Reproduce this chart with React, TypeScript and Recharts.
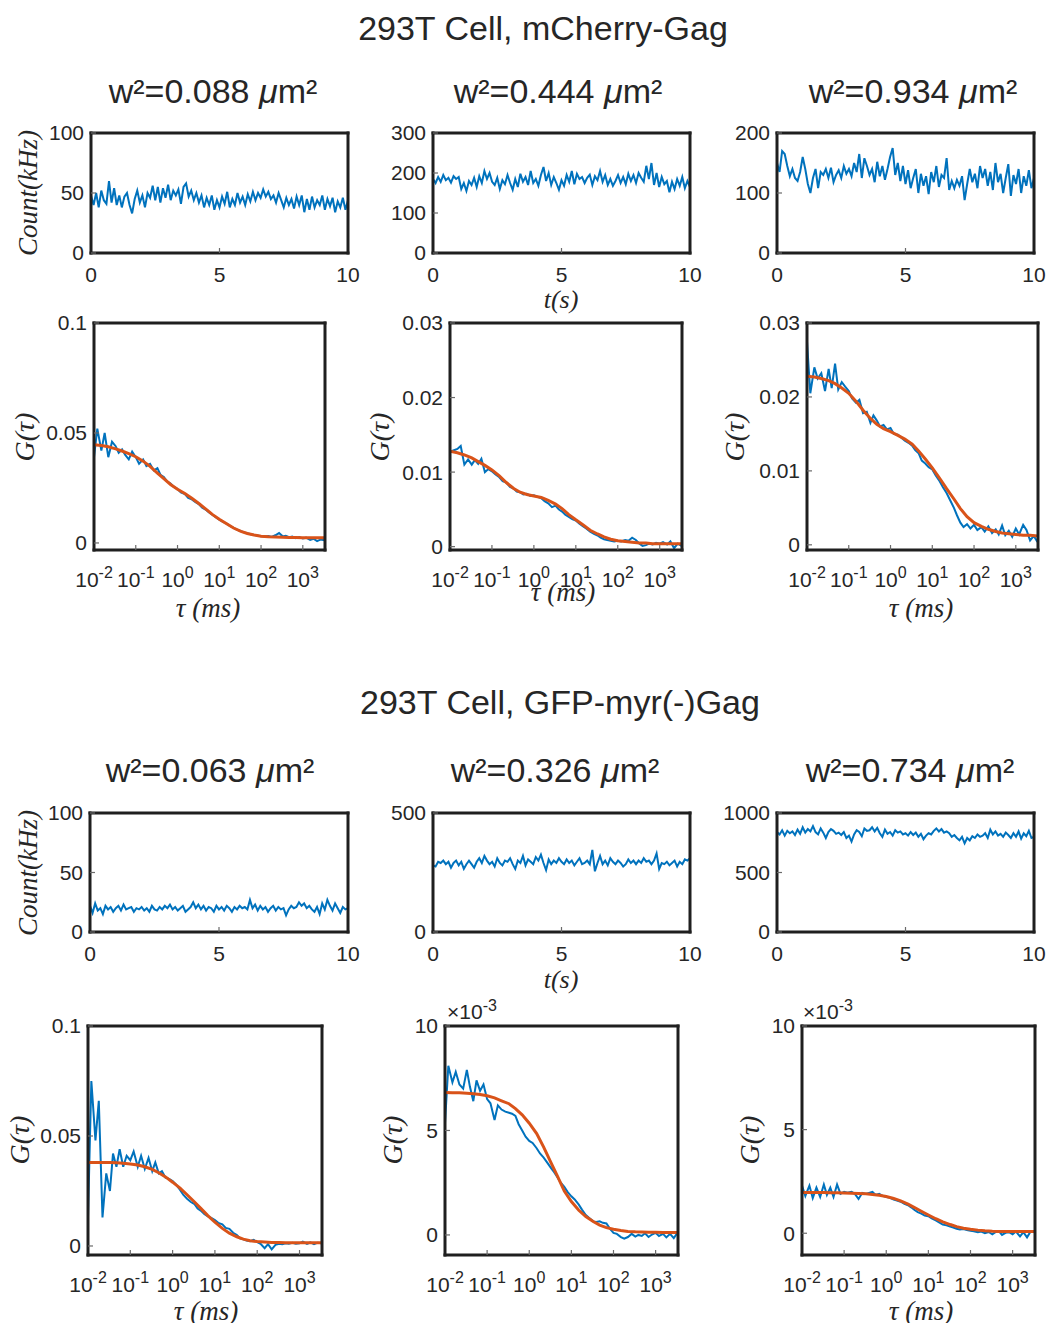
import React from 'react';
import { LineChart, Line, XAxis, YAxis } from 'recharts';

const BLUE = '#0072BD';
const ORANGE = '#D95319';
const INK = '#262626';
const FRAME = '#1f1f1f';
const SANS = '"Liberation Sans", Arial, Helvetica, sans-serif';
const SERIF = '"Liberation Serif", "Times New Roman", serif';

// time base of the photon count traces (s)
const T_SEC = [
  0, 0.1, 0.2, 0.3, 0.4, 0.5, 0.6, 0.7, 0.8, 0.9,
  1, 1.1, 1.2, 1.3, 1.4, 1.5, 1.6, 1.7, 1.8, 1.9,
  2, 2.1, 2.2, 2.3, 2.4, 2.5, 2.6, 2.7, 2.8, 2.9,
  3, 3.1, 3.2, 3.3, 3.4, 3.5, 3.6, 3.7, 3.8, 3.9,
  4, 4.1, 4.2, 4.3, 4.4, 4.5, 4.6, 4.7, 4.8, 4.9,
  5, 5.1, 5.2, 5.3, 5.4, 5.5, 5.6, 5.7, 5.8, 5.9,
  6, 6.1, 6.2, 6.3, 6.4, 6.5, 6.6, 6.7, 6.8, 6.9,
  7, 7.1, 7.2, 7.3, 7.4, 7.5, 7.6, 7.7, 7.8, 7.9,
  8, 8.1, 8.2, 8.3, 8.4, 8.5, 8.6, 8.7, 8.8, 8.9,
  9, 9.1, 9.2, 9.3, 9.4, 9.5, 9.6, 9.7, 9.8, 9.9,
  10,
];

// lag times of the correlation data (ms)
const TAU = [
  0.01, 0.012, 0.015, 0.018, 0.022, 0.027, 0.033, 0.039, 0.047, 0.056, 0.068, 0.082,
  0.1, 0.12, 0.15, 0.18, 0.22, 0.27, 0.33, 0.39, 0.47, 0.56, 0.68, 0.82,
  1, 1.2, 1.5, 1.8, 2.2, 2.7, 3.3, 3.9, 4.7, 5.6, 6.8, 8.2,
  10, 12, 15, 18, 22, 27, 33, 39, 47, 56, 68, 82,
  100, 120, 150, 180, 220, 270, 330, 390, 470, 560, 680, 820,
  1000, 1200, 1500, 1800, 2200, 2700, 3300,
];

// lag times of the fitted curves (ms)
const TAU_FIT = [
  0.01, 0.015, 0.022, 0.033, 0.047, 0.068,
  0.1, 0.15, 0.22, 0.33, 0.47, 0.68,
  1, 1.5, 2.2, 3.3, 4.7, 6.8,
  10, 15, 22, 33, 47, 68,
  100, 150, 220, 330, 470, 680,
  1000, 1500, 2200, 3300,
];

const COUNT_X_TICKS = [0, 5, 10];
const TAU_TICKS = [0.01, 0.1, 1, 10, 100, 1000];

// ---- mCherry-Gag: count traces (kHz)
const MCH_COUNT_1 = [
  48, 40, 50, 38, 52, 44, 41, 60, 42, 54,
  40, 48, 38, 47, 50, 40, 33, 45, 52, 42,
  48, 38, 50, 46, 56, 44, 55, 42, 54, 46,
  57, 44, 52, 48, 53, 41, 55, 58, 47, 52,
  44, 50, 42, 48, 38, 46, 40, 48, 36, 44,
  38, 47, 41, 51, 38, 45, 40, 50, 42, 47,
  40, 49, 43, 51, 44, 50, 46, 53, 47, 51,
  45, 48, 42, 50, 44, 38, 46, 40, 45, 37,
  47, 40, 48, 34, 45, 36, 47, 38, 44, 40,
  48, 36, 45, 39, 46, 34, 43, 38, 46, 36,
  44,
];
const MCH_COUNT_2 = [
  185, 175, 190, 178, 195, 182, 188, 176, 192, 185,
  190, 160, 175, 155, 180, 170, 188, 165, 192, 175,
  205, 185, 200, 178, 170, 188, 160, 182, 172, 195,
  175, 158, 185, 165, 198, 178, 190, 170, 205, 175,
  185, 168, 195, 215, 180, 200, 170, 190, 175, 158,
  182, 168, 195, 178, 205, 172, 198, 185, 190, 175,
  188, 196, 170, 192, 182, 205, 178, 195, 170, 185,
  168, 180, 195, 175, 190, 172, 198, 180, 195, 175,
  200, 188, 178, 218, 185, 225, 170, 200, 165, 190,
  172, 180, 152, 178, 160, 185, 168, 190, 162, 180,
  165,
];
const MCH_COUNT_3 = [
  150, 135, 170, 165, 145, 128, 140, 125, 120, 135,
  160, 140, 115, 100, 125, 140, 108, 135, 130, 140,
  125, 142, 118, 130, 138, 125, 145, 132, 140, 128,
  150, 135, 165, 125, 158, 145, 130, 140, 118, 152,
  128, 145, 122, 140, 160, 175, 130, 150, 120, 145,
  115, 138, 108, 125, 140, 100, 132, 112, 128, 98,
  135, 118, 145, 110, 130, 125, 158, 105, 120, 108,
  122, 112, 128, 88, 115, 140, 118, 132, 108, 145,
  125, 140, 112, 135, 105, 150, 118, 132, 100, 125,
  148, 95, 130, 115, 140, 100, 128, 112, 138, 108,
  125,
];

// ---- mCherry-Gag: correlation data and fits
const MCH_G_1 = [
  0.039, 0.052, 0.042, 0.05, 0.039, 0.046, 0.044, 0.041, 0.0425, 0.04, 0.038, 0.0415,
  0.039, 0.036, 0.038, 0.035, 0.036, 0.033, 0.034, 0.031, 0.03, 0.028, 0.027, 0.0255,
  0.0245, 0.023, 0.0222, 0.0205, 0.0198, 0.0185, 0.0175, 0.016, 0.0152, 0.014, 0.0128, 0.0117,
  0.0106, 0.0097, 0.0088, 0.0078, 0.0069, 0.006, 0.0054, 0.0048, 0.0044, 0.004, 0.0036, 0.0034,
  0.0031, 0.0029, 0.0032, 0.0027, 0.0035, 0.0045, 0.003, 0.0033, 0.0026, 0.0029, 0.0022, 0.0027,
  0.002, 0.0024, 0.0014, 0.0019, 0.0008, 0.0016, 0.0012,
];
const MCH_FIT_1 = [
  0.0447, 0.0443, 0.0437, 0.0428, 0.0418, 0.0406,
  0.0392, 0.0372, 0.0348, 0.0318, 0.0292, 0.0266,
  0.0244, 0.0225, 0.0203, 0.0178, 0.0155, 0.013,
  0.0108, 0.0087, 0.0068, 0.0053, 0.0043, 0.0036,
  0.0031, 0.0028, 0.0027, 0.0026, 0.0025, 0.0025,
  0.0024, 0.0024, 0.0024, 0.0024,
];
const MCH_G_2 = [
  0.0127, 0.0129, 0.0131, 0.0135, 0.011, 0.0117, 0.011, 0.0116, 0.0111, 0.0118, 0.01, 0.0104,
  0.0101, 0.0097, 0.0093, 0.0088, 0.0086, 0.008, 0.0078, 0.0074, 0.0073, 0.007, 0.0071, 0.0068,
  0.0069, 0.0067, 0.0065, 0.0061, 0.0058, 0.0053, 0.0055, 0.005, 0.0047, 0.0043, 0.004, 0.0037,
  0.0035, 0.0031, 0.0027, 0.0024, 0.002, 0.0017, 0.0015, 0.0012, 0.001, 0.0009, 0.0008, 0.0007,
  0.0008, 0.0007, 0.0009, 0.0008, 0.0012, 0.0009, 0.0004, 0.0001, 0.0002, 0.0004, 0.0003, 0.0005,
  0.0004, 0.0006, 0.0003, 0.0007, -0.0002, 0.0004, 0.0001,
];
const MCH_FIT_2 = [
  0.0128, 0.0126, 0.0123, 0.0119, 0.0114, 0.0109,
  0.0103, 0.0095, 0.0086, 0.0078, 0.0073, 0.007,
  0.0068, 0.0066, 0.0062, 0.0057, 0.0051, 0.0043,
  0.0036, 0.0029, 0.0022, 0.0017, 0.0013, 0.001,
  0.0008, 0.0007, 0.0006, 0.0005, 0.0005, 0.0004,
  0.0004, 0.0004, 0.0004, 0.0004,
];
const MCH_G_3 = [
  0.0275, 0.0205, 0.024, 0.0225, 0.0232, 0.0208, 0.0238, 0.0212, 0.0245, 0.021, 0.022, 0.0214,
  0.0208, 0.0198, 0.0192, 0.0196, 0.0178, 0.018, 0.0165, 0.0175, 0.0168, 0.016, 0.0162, 0.0156,
  0.0158, 0.015, 0.0149, 0.0145, 0.0141, 0.0138, 0.0134, 0.0128, 0.0124, 0.0114, 0.011, 0.0105,
  0.0102, 0.0094, 0.0086, 0.0078, 0.007, 0.006, 0.005, 0.004, 0.003, 0.0024, 0.0028, 0.0022,
  0.0027, 0.002, 0.0024, 0.0018, 0.0025, 0.0016, 0.0021, 0.0014, 0.0026, 0.0013, 0.0019, 0.0011,
  0.0022, 0.0014, 0.0027, 0.002, 0.0006, 0.0012, 0.0004,
];
const MCH_FIT_3 = [
  0.0228, 0.0227, 0.0225, 0.0222, 0.0218, 0.0212,
  0.0205, 0.0194, 0.0182, 0.0171, 0.0163, 0.0157,
  0.0153, 0.0148, 0.0143, 0.0136, 0.0127, 0.0116,
  0.0104, 0.009, 0.0076, 0.0062, 0.0049, 0.0038,
  0.003, 0.0025, 0.0021, 0.0018, 0.0016, 0.0015,
  0.0014, 0.0013, 0.0013, 0.0012,
];

// ---- GFP-myr(-)Gag: count traces (kHz)
const GFP_COUNT_1 = [
  22, 16, 24, 18, 20, 15, 22, 19, 21, 17,
  20, 22, 18, 23, 19, 20, 21, 17, 20, 19,
  21, 18, 20, 17, 22, 19, 18, 21, 19, 22,
  20, 23, 19, 21, 18, 20, 22, 17, 19, 21,
  25, 20, 23, 19, 22, 18, 21, 20, 17, 22,
  19, 21, 18, 22, 20, 17, 21, 19, 22, 20,
  21, 19, 27, 20, 23, 18, 22, 19, 21, 17,
  20, 22, 18, 21, 19, 20, 14, 19, 22, 20,
  21, 25, 22, 24, 20, 22, 19, 17, 21, 15,
  24, 19, 27, 22, 18, 24, 20, 16, 21, 19,
  20,
];
const GFP_COUNT_2 = [
  280, 275, 295, 290, 300, 285, 295, 270, 290, 300,
  280, 295, 265, 285, 300, 285, 270, 295, 310, 290,
  320, 300, 285, 295, 275, 310, 290, 280, 300, 295,
  310, 285, 265, 300, 290, 320, 280, 305, 295, 285,
  315, 300, 325, 290, 260, 305, 285, 300, 290, 310,
  295, 285, 305, 290, 300, 280, 295, 310, 285, 290,
  300, 285, 345, 255, 290, 320, 285, 300, 280, 310,
  295, 285, 300, 290, 275, 285, 305, 290, 300, 285,
  300, 290, 310, 295, 300, 285, 300, 330, 265, 290,
  285, 295, 280, 290, 300, 275, 295, 285, 305, 300,
  310,
];
const GFP_COUNT_3 = [
  840, 820, 855, 810, 850, 830, 845, 815, 860, 825,
  880, 835, 865, 845, 890, 840, 820, 870, 835, 790,
  840, 865, 850, 825, 835, 815, 840, 790, 810, 760,
  820, 855, 840, 805, 870, 850, 855, 880, 845, 875,
  830, 800, 860, 825, 840, 810, 855, 835, 845, 820,
  830, 810, 840, 815, 835, 800, 825, 780, 810, 830,
  820, 850, 870, 845, 865, 835, 845, 830, 800, 815,
  790, 770, 800, 745, 790, 770, 805, 790, 820, 800,
  810, 830, 790, 860, 820, 845, 810, 825, 800, 835,
  815, 790, 830, 800, 845, 785, 830, 805, 850, 790,
  800,
];

// ---- GFP-myr(-)Gag: correlation data and fits (panels 2 and 3 in units of 1e-3)
const GFP_G_1 = [
  0.013, 0.075, 0.048, 0.066, 0.013, 0.033, 0.025, 0.042, 0.036, 0.044, 0.036, 0.041,
  0.039, 0.043, 0.036, 0.041, 0.035, 0.04, 0.034, 0.038, 0.033, 0.034, 0.031, 0.0305,
  0.0295, 0.028, 0.0255, 0.0232, 0.0215, 0.02, 0.019, 0.017, 0.016, 0.0145, 0.0135, 0.0128,
  0.0118, 0.0105, 0.0098, 0.0082, 0.0078, 0.006, 0.005, 0.0035, 0.003, 0.0025, 0.0022, 0.0028,
  0.0018, 0.001, -0.001, 0.0008, -0.0015, 0.0005, 0.001, 0.0008, 0.0012, 0.001, 0.0014, 0.001,
  0.0012, 0.002, 0.001, 0.0016, 0.0008, 0.0015, 0.0012,
];
const GFP_FIT_1 = [
  0.038, 0.038, 0.038, 0.0379, 0.0378, 0.0376,
  0.0373, 0.0368, 0.036, 0.0348, 0.0333, 0.0314,
  0.029, 0.0263, 0.0233, 0.02, 0.017, 0.0138,
  0.0108, 0.008, 0.0058, 0.0042, 0.0031, 0.0024,
  0.002, 0.0018, 0.0016, 0.0016, 0.0015, 0.0015,
  0.0015, 0.0015, 0.0015, 0.0015,
];
const GFP_G_2 = [
  5.35, 8.1, 7.3, 7.8, 7.2, 7.0, 7.9, 7.1, 6.4, 7.4, 6.9, 7.2,
  6.5, 6.3, 5.5, 6.2, 6.0, 5.9, 5.85, 5.8, 5.7, 5.3, 5.0, 4.7,
  4.5, 4.4, 4.15, 3.9, 3.7, 3.45, 3.2, 3.0, 2.75, 2.5, 2.3, 2.05,
  1.85, 1.7, 1.45, 1.2, 0.95, 0.8, 0.65, 0.62, 0.65, 0.58, 0.55, 0.3,
  0.1, 0.05, -0.1, -0.18, -0.1, 0.05, -0.08, 0.0, -0.05, 0.08, -0.1, 0.02,
  0.1, -0.05, 0.05, -0.12, 0.05, -0.15, 0.1,
];
const GFP_FIT_2 = [
  6.82, 6.81, 6.8, 6.78, 6.76, 6.72,
  6.66, 6.56, 6.42, 6.28, 6.05, 5.75,
  5.35, 4.85, 4.2, 3.45, 2.8, 2.1,
  1.6, 1.18, 0.88, 0.64, 0.47, 0.35,
  0.27, 0.21, 0.17, 0.15, 0.14, 0.13,
  0.13, 0.12, 0.12, 0.12,
];
const GFP_G_3 = [
  2.3, 1.8, 2.3, 1.7, 2.2, 1.75, 2.35, 1.85, 2.2, 1.75, 2.35, 1.9,
  2.0, 1.95, 2.0, 1.9, 1.65, 1.95, 1.9, 1.95, 2.0, 1.85, 1.9, 1.8,
  1.75, 1.72, 1.62, 1.58, 1.52, 1.42, 1.35, 1.25, 1.12, 1.02, 0.95, 0.85,
  0.82, 0.72, 0.62, 0.52, 0.42, 0.38, 0.32, 0.28, 0.22, 0.18, 0.2, 0.15,
  0.12, 0.1, 0.05, 0.08, 0.0, 0.06, -0.05, 0.05, 0.1, -0.08, 0.02, 0.05,
  -0.05, 0.08, -0.15, 0.05, -0.2, 0.1, 0.05,
];
const GFP_FIT_3 = [
  1.96, 1.96, 1.96, 1.96, 1.95, 1.95,
  1.94, 1.93, 1.92, 1.9, 1.87, 1.83,
  1.77, 1.68, 1.56, 1.4, 1.24, 1.06,
  0.88, 0.7, 0.55, 0.42, 0.32, 0.24,
  0.19, 0.15, 0.12, 0.1, 0.09, 0.09,
  0.08, 0.08, 0.08, 0.08,
];

const pts = (xs: number[], ys: number[]) => ys.map((y, i) => ({ x: xs[i], y }));

type Series = { data: { x: number; y: number }[]; color: string; width: number };
type Box = { x: number; y: number; w: number; h: number };

const PAD_L = 80;
const PAD_T = 20;
const PAD_R = 30;
const PAD_B = 50;

const TICK_TEXT = { fontSize: 21, fill: INK, fontFamily: SANS };
const AXIS_LINE = { stroke: FRAME, strokeWidth: 3, strokeLinecap: 'square' as const };
const TICK_LINE = { stroke: '#6a6a6a', strokeWidth: 1.2 };

// 10^n labels for the lag-time axis
const PowTick = (props: any) => {
  const { x, y, payload } = props;
  const e = Math.round(Math.log10(payload.value));
  return (
    <text x={x} y={y} dy={15} textAnchor="middle" fontSize={21} fill={INK} fontFamily={SANS}>
      <tspan>10</tspan>
      <tspan dy={-9} fontSize={16}>{String(e)}</tspan>
    </text>
  );
};

interface PanelProps {
  box: Box;
  xDomain: [number, number];
  xTicks: number[];
  log?: boolean;
  yDomain: [number, number];
  yTicks: number[];
  series: Series[];
}

const Panel: React.FC<PanelProps> = ({ box, xDomain, xTicks, log = false, yDomain, yTicks, series }) => {
  const scale = log ? 'log' : 'linear';
  return (
    <div style={{ position: 'absolute', left: box.x - PAD_L, top: box.y - PAD_T }}>
      <LineChart
        width={box.w + PAD_L + PAD_R}
        height={box.h + PAD_T + PAD_B}
        margin={{ top: PAD_T - 1, right: PAD_R - 1, left: 0, bottom: 0 }}
      >
        <XAxis
          xAxisId="b"
          dataKey="x"
          type="number"
          scale={scale}
          domain={xDomain}
          ticks={xTicks}
          interval={0}
          allowDataOverflow
          height={PAD_B}
          tickSize={-5}
          tickMargin={log ? 27 : 19}
          tickLine={TICK_LINE}
          axisLine={AXIS_LINE}
          tick={log ? <PowTick /> : TICK_TEXT}
        />
        <XAxis
          xAxisId="t"
          orientation="top"
          dataKey="x"
          type="number"
          scale={scale}
          domain={xDomain}
          ticks={xTicks}
          interval={0}
          allowDataOverflow
          height={1}
          tickSize={-5}
          tick={false}
          tickLine={TICK_LINE}
          axisLine={AXIS_LINE}
        />
        <YAxis
          yAxisId="l"
          type="number"
          domain={yDomain}
          ticks={yTicks}
          interval={0}
          allowDataOverflow
          width={PAD_L}
          tickSize={-5}
          tickMargin={12}
          tickLine={TICK_LINE}
          axisLine={AXIS_LINE}
          tick={TICK_TEXT}
        />
        <YAxis
          yAxisId="r"
          orientation="right"
          type="number"
          domain={yDomain}
          ticks={yTicks}
          interval={0}
          allowDataOverflow
          width={1}
          tickSize={-5}
          tick={false}
          tickLine={TICK_LINE}
          axisLine={AXIS_LINE}
        />
        {series.map((s, i) => (
          <Line
            key={`s-${i}`}
            xAxisId="b"
            yAxisId="l"
            data={s.data}
            dataKey="y"
            type="linear"
            stroke={s.color}
            strokeWidth={s.width}
            dot={false}
            activeDot={false}
            isAnimationActive={false}
          />
        ))}
      </LineChart>
    </div>
  );
};

interface TxtProps {
  x: number;
  y: number;
  size: number;
  rotate?: boolean;
  serif?: boolean;
  children: React.ReactNode;
}

// text centred on (x, y)
const Txt: React.FC<TxtProps> = ({ x, y, size, rotate = false, serif = false, children }) => (
  <div
    style={{
      position: 'absolute',
      left: x,
      top: y,
      transform: `translate(-50%, -50%)${rotate ? ' rotate(-90deg)' : ''}`,
      fontSize: size,
      lineHeight: 1,
      whiteSpace: 'nowrap',
      fontFamily: serif ? SERIF : SANS,
      fontStyle: serif ? 'italic' : 'normal',
      color: INK,
    }}
  >
    {children}
  </div>
);

const W2 = ({ v }: { v: string }) => (
  <>
    w²={v} <i>μ</i>m²
  </>
);

const Exp3 = ({ x, y }: { x: number; y: number }) => (
  <div style={{ position: 'absolute', left: x, top: y, fontSize: 21, lineHeight: 1, fontFamily: SANS, color: INK, whiteSpace: 'nowrap' }}>
    ×10<span style={{ position: 'relative', top: -8, fontSize: 16 }}>-3</span>
  </div>
);

const blue = (data: { x: number; y: number }[], width = 2): Series => ({ data, color: BLUE, width });
const orange = (data: { x: number; y: number }[]): Series => ({ data, color: ORANGE, width: 3 });

export default function App() {
  const tauDomain: [number, number] = [0.01, 3400];
  return (
    <div style={{ position: 'absolute', left: 0, top: 0, width: 1048, height: 1323, background: '#fff' }}>
      {/* ---------- mCherry-Gag ---------- */}
      <Txt x={543} y={28} size={34}>293T Cell, mCherry-Gag</Txt>
      <Txt x={213} y={91} size={34}><W2 v="0.088" /></Txt>
      <Txt x={558} y={91} size={34}><W2 v="0.444" /></Txt>
      <Txt x={913} y={91} size={34}><W2 v="0.934" /></Txt>

      <Panel box={{ x: 91, y: 133, w: 257, h: 120 }} xDomain={[0, 10]} xTicks={COUNT_X_TICKS}
        yDomain={[0, 100]} yTicks={[0, 50, 100]} series={[blue(pts(T_SEC, MCH_COUNT_1))]} />
      <Panel box={{ x: 433, y: 133, w: 257, h: 120 }} xDomain={[0, 10]} xTicks={COUNT_X_TICKS}
        yDomain={[0, 300]} yTicks={[0, 100, 200, 300]} series={[blue(pts(T_SEC, MCH_COUNT_2))]} />
      <Panel box={{ x: 777, y: 133, w: 257, h: 120 }} xDomain={[0, 10]} xTicks={COUNT_X_TICKS}
        yDomain={[0, 200]} yTicks={[0, 100, 200]} series={[blue(pts(T_SEC, MCH_COUNT_3))]} />
      <Txt x={28} y={193} size={27} serif rotate>Count(kHz)</Txt>
      <Txt x={561} y={300} size={26} serif>t(s)</Txt>

      <Panel box={{ x: 94, y: 323, w: 231, h: 227 }} log xDomain={tauDomain} xTicks={TAU_TICKS}
        yDomain={[-0.0032, 0.1]} yTicks={[0, 0.05, 0.1]}
        series={[blue(pts(TAU, MCH_G_1)), orange(pts(TAU_FIT, MCH_FIT_1))]} />
      <Panel box={{ x: 450, y: 323, w: 232, h: 227 }} log xDomain={tauDomain} xTicks={TAU_TICKS}
        yDomain={[-0.00045, 0.03]} yTicks={[0, 0.01, 0.02, 0.03]}
        series={[blue(pts(TAU, MCH_G_2)), orange(pts(TAU_FIT, MCH_FIT_2))]} />
      <Panel box={{ x: 807, y: 323, w: 231, h: 227 }} log xDomain={tauDomain} xTicks={TAU_TICKS}
        yDomain={[-0.0007, 0.03]} yTicks={[0, 0.01, 0.02, 0.03]}
        series={[blue(pts(TAU, MCH_G_3)), orange(pts(TAU_FIT, MCH_FIT_3))]} />
      <Txt x={25} y={437} size={28} serif rotate>G(τ)</Txt>
      <Txt x={380} y={437} size={28} serif rotate>G(τ)</Txt>
      <Txt x={735} y={437} size={28} serif rotate>G(τ)</Txt>
      <Txt x={208} y={608} size={27} serif>τ (ms)</Txt>
      <Txt x={563} y={592} size={27} serif>τ (ms)</Txt>
      <Txt x={921} y={608} size={27} serif>τ (ms)</Txt>

      {/* ---------- GFP-myr(-)Gag ---------- */}
      <Txt x={560} y={702} size={34}>293T Cell, GFP-myr(-)Gag</Txt>
      <Txt x={210} y={770} size={34}><W2 v="0.063" /></Txt>
      <Txt x={555} y={770} size={34}><W2 v="0.326" /></Txt>
      <Txt x={910} y={770} size={34}><W2 v="0.734" /></Txt>

      <Panel box={{ x: 90, y: 813, w: 258, h: 119 }} xDomain={[0, 10]} xTicks={COUNT_X_TICKS}
        yDomain={[0, 100]} yTicks={[0, 50, 100]} series={[blue(pts(T_SEC, GFP_COUNT_1))]} />
      <Panel box={{ x: 433, y: 813, w: 257, h: 119 }} xDomain={[0, 10]} xTicks={COUNT_X_TICKS}
        yDomain={[0, 500]} yTicks={[0, 500]} series={[blue(pts(T_SEC, GFP_COUNT_2))]} />
      <Panel box={{ x: 777, y: 813, w: 257, h: 119 }} xDomain={[0, 10]} xTicks={COUNT_X_TICKS}
        yDomain={[0, 1000]} yTicks={[0, 500, 1000]} series={[blue(pts(T_SEC, GFP_COUNT_3))]} />
      <Txt x={28} y={873} size={27} serif rotate>Count(kHz)</Txt>
      <Txt x={561} y={980} size={26} serif>t(s)</Txt>

      <Panel box={{ x: 88, y: 1026, w: 234, h: 229 }} log xDomain={tauDomain} xTicks={TAU_TICKS}
        yDomain={[-0.0041, 0.1]} yTicks={[0, 0.05, 0.1]}
        series={[blue(pts(TAU, GFP_G_1)), orange(pts(TAU_FIT, GFP_FIT_1))]} />
      <Panel box={{ x: 445, y: 1026, w: 233, h: 229 }} log xDomain={tauDomain} xTicks={TAU_TICKS}
        yDomain={[-0.96, 10]} yTicks={[0, 5, 10]}
        series={[blue(pts(TAU, GFP_G_2)), orange(pts(TAU_FIT, GFP_FIT_2))]} />
      <Panel box={{ x: 802, y: 1026, w: 233, h: 229 }} log xDomain={tauDomain} xTicks={TAU_TICKS}
        yDomain={[-1.05, 10]} yTicks={[0, 5, 10]}
        series={[blue(pts(TAU, GFP_G_3)), orange(pts(TAU_FIT, GFP_FIT_3))]} />
      <Exp3 x={447} y={1001} />
      <Exp3 x={803} y={1001} />
      <Txt x={20} y={1140} size={28} serif rotate>G(τ)</Txt>
      <Txt x={393} y={1140} size={28} serif rotate>G(τ)</Txt>
      <Txt x={750} y={1140} size={28} serif rotate>G(τ)</Txt>
      <Txt x={206} y={1311} size={27} serif>τ (ms)</Txt>
      <Txt x={921} y={1311} size={27} serif>τ (ms)</Txt>
    </div>
  );
}
